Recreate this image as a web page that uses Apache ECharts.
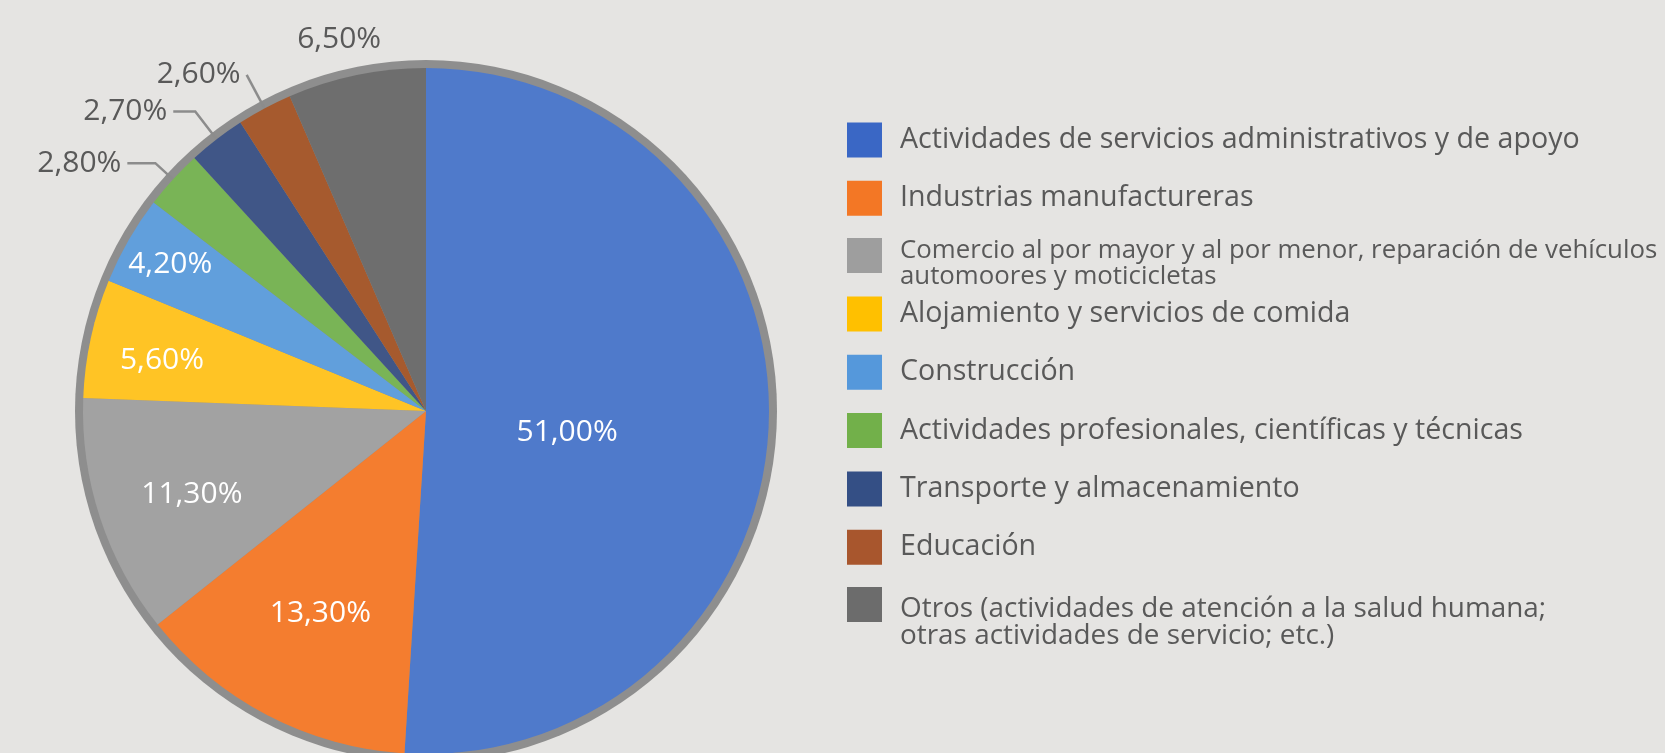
<!DOCTYPE html>
<html>
<head>
<meta charset="utf-8">
<script src="https://cdn.jsdelivr.net/npm/echarts@6/dist/echarts.min.js"></script>
<style>
html,body{margin:0;padding:0;background:#e5e4e2;}
#c{width:1665px;height:753px;}
</style>
</head>
<body>
<div id="c"></div>
<script>
// ---- data ----
const categories = [
  'Actividades de servicios administrativos y de apoyo',
  'Industrias manufactureras',
  'Comercio al por mayor y al por menor, reparación de vehículos\nautomoores y moticicletas',
  'Alojamiento y servicios de comida',
  'Construcción',
  'Actividades profesionales, científicas y técnicas',
  'Transporte y almacenamiento',
  'Educación',
  'Otros (actividades de atención a la salud humana;\notras actividades de servicio; etc.)'
];
const values = [51.0, 13.3, 11.3, 5.6, 4.2, 2.8, 2.7, 2.6, 6.5];

// ---- styles / layout ----
const sliceColors = ['#4f7acb','#f47d2f','#a2a2a2','#ffc425','#619fdc','#79b456','#405687','#a65a2e','#6e6e6e'];
const legendColors = ['#3a67c5','#f37725','#9e9e9e','#ffc000','#5598db','#72b04a','#344f85','#a8562d','#6c6c6c'];
const CX = 426, CY = 411, R = 343, RING = 351;
// inside label placement: [fraction of radius, angular offset in degrees]
const insideLabelPlace = {0:[0.416, 6.7], 1:[0.666, 0], 2:[0.725, -1.5], 3:[0.784, -1.3], 4:[0.86, 0]};
// outside label lines: [length, length2]
const outsideLine = {5:[24, 28], 6:[35, 22], 7:[38, 0]};
const fmt = v => v.toFixed(2).replace('.', ',') + '%';

const pieData = categories.map((name, i) => {
  const d = { name: name, value: values[i], itemStyle: { color: sliceColors[i] } };
  if (outsideLine[i]) {
    d.label = { position: 'outside', color: '#595959' };
    if (i === 7) d.label.padding = [0, 0, 10, 0];
    d.labelLine = { show: true, length: outsideLine[i][0], length2: outsideLine[i][1],
                    lineStyle: { color: '#8c8c8c', width: 2.5 } };
  } else if (i === 8) {
    d.label = { position: 'outside', color: '#595959' };
    d.labelLine = { show: false, length: 36, length2: 0 };
  }
  return d;
});

function legendItems(from, to) {
  const out = [];
  for (let i = from; i <= to; i++) {
    out.push({ name: categories[i], itemStyle: { color: legendColors[i] } });
  }
  return out;
}

function legendFormatter(name) {
  const i = categories.indexOf(name);
  if (i === 2 || i === 8) {
    const parts = name.split('\n');
    const k = i === 2 ? 'c' : 'o';
    return '{' + k + 'e|}{' + k + '1|' + parts[0] + '}\n{' + k + '2|' + parts[1] + '}';
  }
  return name;
}

const legendBase = {
  orient: 'vertical',
  left: 842,
  itemWidth: 35,
  itemHeight: 35,
  itemGap: 23.3,
  icon: 'rect',
  selectedMode: false,
  formatter: legendFormatter,
  textStyle: {
    fontFamily: '"Open Sans", sans-serif',
    fontSize: 28.6,
    color: '#595959',
    lineHeight: 35,
    padding: [0, 0, 0, 13],
    rich: {
      ce: { fontSize: 1, lineHeight: 43 },
      c1: { fontSize: 25.8, lineHeight: 26.3, verticalAlign: 'bottom', color: '#595959' },
      c2: { fontSize: 25.8, lineHeight: 26.3, color: '#595959' },
      oe: { fontSize: 1, lineHeight: 62.6 },
      o1: { fontSize: 27.9, lineHeight: 26.5, verticalAlign: 'bottom', color: '#595959' },
      o2: { fontSize: 27.9, lineHeight: 26.5, color: '#595959' }
    }
  }
};

const chart = echarts.init(document.getElementById('c'), null, { renderer: 'canvas' });
chart.setOption({
  backgroundColor: '#e5e4e2',
  animation: false,
  textStyle: { fontFamily: '"Open Sans", sans-serif' },
  legend: [
    Object.assign({}, legendBase, { top: 117.5, data: legendItems(0, 1) }),
    Object.assign({}, legendBase, { top: 215.9, data: legendItems(2, 2) }),
    Object.assign({}, legendBase, { top: 291.5, data: legendItems(3, 7) }),
    Object.assign({}, legendBase, { top: 555, data: legendItems(8, 8) })
  ],
  series: [
    {
      type: 'pie',
      silent: true,
      center: [CX, CY],
      radius: [0, RING],
      startAngle: 90,
      label: { show: false },
      labelLine: { show: false },
      itemStyle: { color: '#8e8e8e' },
      data: [{ value: 1, name: 'ring' }],
      legendHoverLink: false,
      z: 1
    },
    {
      type: 'pie',
      center: [CX, CY],
      radius: [0, R],
      startAngle: 90,
      clockwise: true,
      avoidLabelOverlap: true,
      data: pieData,
      z: 2,
      label: {
        show: true,
        position: 'inside',
        formatter: p => fmt(p.value),
        fontFamily: '"Open Sans", sans-serif',
        fontSize: 30,
        color: '#ffffff',
        distanceToLabelLine: 6
      },
      labelLayout: function (params) {
        const i = params.dataIndex;
        const lr = params.labelRect;
        const lx = lr.x + lr.width / 2, ly = lr.y + lr.height / 2;
        const place = insideLabelPlace[i];
        if (place) {
          const theta = Math.atan2(lx - CX, -(ly - CY)) + place[1] * Math.PI / 180;
          const f = place[0] * R;
          return { x: CX + Math.sin(theta) * f, y: CY - Math.cos(theta) * f, align: 'center', verticalAlign: 'middle' };
        }
        if (i === 8) {
          return { dx: lr.width / 2 - 4 };
        }
        return {};
      }
    }
  ]
});
</script>
</body>
</html>
